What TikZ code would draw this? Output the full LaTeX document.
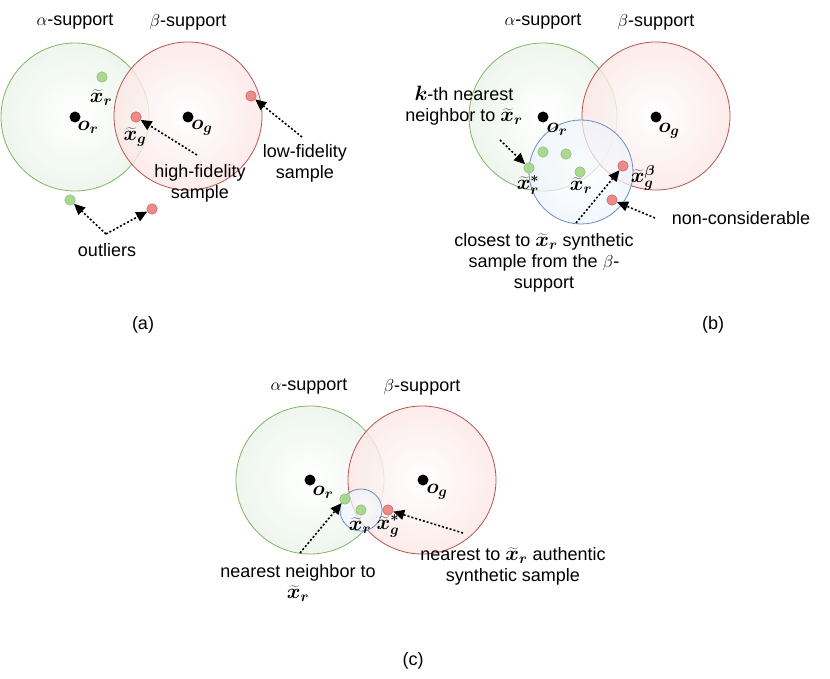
\documentclass[tikz,border=0pt]{standalone}
\usepackage{bm}
\usepackage{fontspec}
\setmainfont{Liberation Sans}
\usetikzlibrary{arrows.meta}

\definecolor{greenfill}{HTML}{D5E8D4}
\definecolor{greenline}{HTML}{82B366}
\definecolor{redfill}{HTML}{F8CECC}
\definecolor{redline}{HTML}{B85450}
\definecolor{bluefill}{HTML}{DAE8FC}
\definecolor{blueline}{HTML}{6C8EBF}
\definecolor{gdotfill}{HTML}{A9D98E}
\definecolor{rdotfill}{HTML}{F08A87}

\pgfdeclareradialshading{greenglow}{\pgfpoint{0bp}{0bp}}{color(0bp)=(white); color(50bp)=(greenfill); color(75bp)=(greenfill)}
\pgfdeclareradialshading{redglow}{\pgfpoint{0bp}{0bp}}{color(0bp)=(white); color(50bp)=(redfill); color(75bp)=(redfill)}
\pgfdeclareradialshading{blueglow}{\pgfpoint{0bp}{0bp}}{color(0bp)=(white); color(50bp)=(bluefill); color(75bp)=(bluefill)}

% bold math symbols a bit larger than the text
\newcommand{\mvar}[1]{{\fontsize{20.74}{21}\selectfont$#1$}}
\newcommand{\xt}{\widetilde{\bm{x}}}

\begin{document}
\begin{tikzpicture}[x=1pt, y=-1pt,
    font=\fontsize{18}{21}\selectfont,
    alphadisc/.style={circle, draw=greenline, line width=0.8pt, shading=greenglow, fill opacity=0.8, minimum size=148pt, inner sep=0pt},
    betadisc/.style={circle, draw=redline, line width=0.8pt, shading=redglow, fill opacity=0.8, minimum size=148pt, inner sep=0pt},
    nbdisc/.style={circle, draw=blueline, line width=0.8pt, shading=blueglow, fill opacity=0.7, inner sep=0pt},
    centre/.style={circle, fill=black, minimum size=11pt, inner sep=0pt},
    gdot/.style={circle, draw=greenline, fill=gdotfill, minimum size=10.5pt, inner sep=0pt},
    rdot/.style={circle, draw=redline, fill=rdotfill, minimum size=10.5pt, inner sep=0pt},
    pointer/.style={dash pattern=on 2pt off 2pt, line width=1.6pt, -{Triangle[length=11pt,width=10pt]}},
    lbl/.style={inner sep=1pt, align=center}]
    \useasboundingbox (0,0) rectangle (830,679);

    % (a)
    \node[alphadisc] (greenA) at (75,117) {};
    \node[betadisc] (redA) at (188,116) {};
    \node[centre] (orA) at (75,117) {};
    \node[centre] (ogA) at (188,117) {};
    \node[gdot] (xrA) at (102,77) {};
    \node[rdot] (xgA) at (136,117) {};
    \node[rdot] (lowA) at (251,96) {};
    \node[gdot] (outG) at (70,200) {};
    \node[rdot] (outR) at (152,209) {};

    \node[lbl] (alphaA) at (75,22) {$\alpha$-support};
    \node[lbl] (betaA) at (188,22) {$\beta$-support};
    \node[lbl] (orAlbl) at (88,127) {\mvar{\bm{o}_{\bm{r}}}};
    \node[lbl] (ogAlbl) at (202,128) {\mvar{\bm{o}_{\bm{g}}}};
    \node[lbl] (xrAlbl) at (101,98) {\mvar{\xt_{\bm{r}}}};
    \node[lbl] (xgAlbl) at (135,137) {\mvar{\xt_{\bm{g}}}};
    \node[lbl] (highA) at (200,183) {high-fidelity\\sample};
    \node[lbl] (lowAlbl) at (305,163) {low-fidelity\\sample};
    \node[lbl] (outA) at (107,250) {outliers};
    \node[lbl] (capA) at (143,325) {(a)};

    \coordinate (highsrc) at (197,155);
    \coordinate (lowsrc) at (302,137);
    \coordinate (outsrc) at (106,234);
    \draw[pointer] (highsrc) -- (xgA);
    \draw[pointer] (lowsrc) -- (lowA);
    \draw[pointer] (outsrc) -- (outG);
    \draw[pointer] (outsrc) -- (outR);

    % (b)
    \node[alphadisc] (greenB) at (543,117) {};
    \node[betadisc] (redB) at (656,116) {};
    \node[nbdisc, minimum size=104pt] (blueB) at (581,172) {};
    \node[centre] (orB) at (543,117) {};
    \node[centre] (ogB) at (656,117) {};
    \node[gdot] (knB) at (529,168) {};
    \node[gdot] (g1B) at (543,152) {};
    \node[gdot] (g2B) at (566,154) {};
    \node[gdot] (xrB) at (580,172) {};
    \node[rdot] (xgB) at (623,166) {};
    \node[rdot] (ncB) at (612,200) {};

    \node[lbl] (alphaB) at (543,22) {$\alpha$-support};
    \node[lbl] (betaB) at (656,22) {$\beta$-support};
    \node[lbl] (orBlbl) at (557,129) {\mvar{\bm{o}_{\bm{r}}}};
    \node[lbl] (ogBlbl) at (669,131) {\mvar{\bm{o}_{\bm{g}}}};
    \node[lbl] (knBlbl) at (528,185) {\mvar{\xt_{\bm{r}}^{\bm{*}}}};
    \node[lbl] (xrBlbl) at (581,186) {\mvar{\xt_{\bm{r}}}};
    \node[lbl] (xgBlbl) at (643,178) {\mvar{\xt_{\bm{g}}^{\bm{\beta}}}};
    \node[lbl] (kthB) at (464,106) {\mvar{\bm{k}}-th nearest\\neighbor to \mvar{\xt_{\bm{r}}}};
    \node[lbl] (closeB) at (544,263) {closest to \mvar{\xt_{\bm{r}}} synthetic\\sample from the $\beta$-\\support};
    \node[lbl] (ncBlbl) at (741,218) {non-considerable};
    \node[lbl] (capB) at (713,325) {(b)};

    \coordinate (kthsrc) at (500,140);
    \coordinate (closesrc) at (576,223);
    \coordinate (ncsrc) at (655,218);
    \draw[pointer] (kthsrc) -- (knB);
    \draw[pointer] (closesrc) -- (xgB);
    \draw[pointer] (ncsrc) -- (ncB);

    % (c)
    \node[alphadisc] (greenC) at (310,480) {};
    \node[betadisc] (redC) at (422,480) {};
    \node[nbdisc, minimum size=42pt] (blueC) at (361,510) {};
    \node[centre] (orC) at (310,480) {};
    \node[centre] (ogC) at (423,480) {};
    \node[gdot] (nnC) at (345,499) {};
    \node[gdot] (xrC) at (361,510) {};
    \node[rdot] (xgC) at (388,510) {};

    \node[lbl] (alphaC) at (309,387) {$\alpha$-support};
    \node[lbl] (betaC) at (422,387) {$\beta$-support};
    \node[lbl] (orClbl) at (323,492) {\mvar{\bm{o}_{\bm{r}}}};
    \node[lbl] (ogClbl) at (437,492) {\mvar{\bm{o}_{\bm{g}}}};
    \node[lbl] (xrClbl) at (360,526) {\mvar{\xt_{\bm{r}}}};
    \node[lbl] (xgClbl) at (388,526) {\mvar{\xt_{\bm{g}}^{\bm{*}}}};
    \node[lbl] (nnClbl) at (298,583) {nearest neighbor to\\\mvar{\xt_{\bm{r}}}};
    \node[lbl] (authC) at (513,566) {nearest to \mvar{\xt_{\bm{r}}} authentic\\synthetic sample};
    \node[lbl] (capC) at (413,661) {(c)};

    \coordinate (nnsrc) at (300,553);
    \coordinate (authsrc) at (463,533);
    \draw[pointer] (nnsrc) -- (nnC);
    \draw[pointer] (authsrc) -- (xgC);
\end{tikzpicture}
\end{document}
